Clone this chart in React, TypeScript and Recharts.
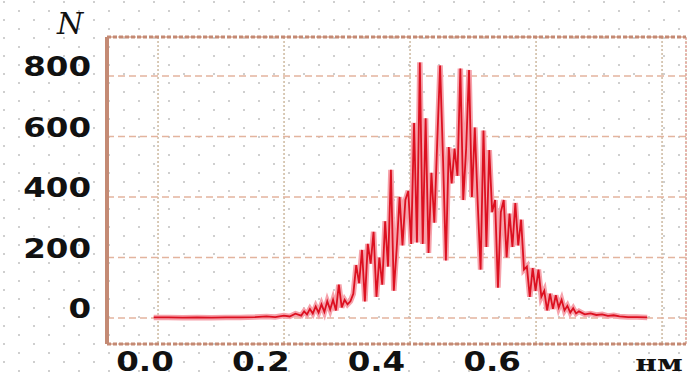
import {
  LineChart,
  Line,
  XAxis,
  YAxis,
  CartesianGrid,
  ReferenceLine,
} from "recharts";

// particle size, nm (as read on the printed axis)
const sizes = [
  0.015, 0.04, 0.065, 0.09, 0.115, 0.14, 0.165, 0.19, 0.21, 0.225, 0.24, 0.25,
  0.26, 0.27, 0.275, 0.28, 0.285, 0.29, 0.295, 0.3, 0.305, 0.31, 0.315, 0.32,
  0.325, 0.33, 0.335, 0.34, 0.345, 0.35, 0.355, 0.36, 0.365, 0.37, 0.375, 0.38,
  0.385, 0.39, 0.395, 0.4, 0.405, 0.41, 0.415, 0.42, 0.425, 0.43, 0.435, 0.44,
  0.445, 0.45, 0.455, 0.46, 0.465, 0.47, 0.475, 0.48, 0.485, 0.49, 0.495, 0.5,
  0.505, 0.51, 0.515, 0.52, 0.525, 0.53, 0.535, 0.54, 0.545, 0.55, 0.555, 0.56,
  0.565, 0.57, 0.575, 0.58, 0.585, 0.59, 0.595, 0.6, 0.605, 0.61, 0.615, 0.62,
  0.625, 0.63, 0.635, 0.64, 0.645, 0.65, 0.655, 0.66, 0.665, 0.67, 0.675, 0.68,
  0.685, 0.69, 0.695, 0.7, 0.705, 0.71, 0.715, 0.72, 0.725, 0.73, 0.735, 0.74,
  0.745, 0.75, 0.76, 0.77, 0.78, 0.79, 0.8, 0.81, 0.82, 0.835, 0.85, 0.868,
];

// counts N
const counts = [
  2, 2, 1, 2, 1, 2, 2, 3, 5, 3, 8, 5,
  14, 8, 22, 12, 30, 15, 38, 18, 45, 20, 55, 28,
  60, 25, 110, 35, 60, 45, 55, 80, 175, 115, 225, 55,
  245, 180, 285, 70, 200, 110, 320, 170, 490, 90, 230, 400,
  240, 390, 420, 245, 645, 250, 845, 245, 660, 215, 480, 315,
  580, 835, 530, 190, 565, 445, 560, 470, 825, 390, 560, 820,
  400, 630, 380, 160, 620, 235, 555, 350, 390, 100, 350, 390,
  200, 345, 235, 380, 240, 325, 160, 170, 70, 165, 90, 160,
  70, 90, 25, 80, 30, 75, 35, 60, 25, 40, 18, 32,
  15, 22, 12, 15, 10, 12, 7, 9, 5, 3, 3, 2,
];

const xTicks = [0, 0.2, 0.4, 0.6];
const yTicks = [0, 200, 400, 600, 800];
// the frame's own grid is offset from the printed labels
const gridTicks = [0, 0.2, 0.4, 0.6, 0.8];

const xDomain = [-0.0657, 0.935];
const gridDomain = [-0.081, 0.838];
const yDomain = [-86, 929];

const chartData = sizes.map((s, i) => ({ size: s, count: counts[i] }));

const FONT = "'DejaVu Sans', sans-serif";
const BROWN = "#c48a74";

function YTick({ x, y, payload }: any) {
  return (
    <g transform={`translate(${x - 8},${y - 9})`}>
      <text
        transform="scale(1.25,1)"
        textAnchor="end"
        dy="0.36em"
        fontFamily={FONT}
        fontWeight="bold"
        fontSize={26}
        fill="#111"
      >
        {payload.value}
      </text>
    </g>
  );
}

function XTick({ x, payload }: any) {
  return (
    <g transform={`translate(${x},362)`}>
      <text
        transform="scale(1.25,1)"
        textAnchor="middle"
        dy="0.36em"
        fontFamily={FONT}
        fontWeight="bold"
        fontSize={26}
        fill="#111"
      >
        {payload.value.toFixed(1)}
      </text>
    </g>
  );
}

function UnitLabel({ viewBox }: any) {
  const { x, width } = viewBox;
  return (
    <g transform={`translate(${x + width - 27},364)`}>
      <text
        transform="scale(1.35,1)"
        textAnchor="middle"
        dy="0.3em"
        fontFamily="'DejaVu Serif', serif"
        fontWeight="bold"
        fontSize={22}
        fill="#111"
      >
        нм
      </text>
    </g>
  );
}

function NLabel() {
  return (
    <text
      x={70}
      y={23}
      textAnchor="middle"
      dy="0.36em"
      fontFamily="'DejaVu Serif', serif"
      fontStyle="italic"
      fontSize={30}
      fill="#111"
    >
      N
    </text>
  );
}

export default function App() {
  return (
    <div
      style={{
        position: "absolute",
        left: 0,
        top: 0,
        width: 687,
        height: 377,
        background: "#fff",
        backgroundImage:
          "radial-gradient(circle, #cfcfcf 1px, transparent 1.2px), radial-gradient(circle, #cfcfcf 1px, transparent 1.2px)",
        backgroundSize: "30px 18px, 30px 18px",
        backgroundPosition: "4px 2px, 19px 11px",
      }}
    >
      <LineChart
        width={687}
        height={377}
        data={chartData}
        margin={{ top: 37, right: 1, bottom: 0, left: 0 }}
      >
        <CartesianGrid
          xAxisId="grid"
          horizontal={false}
          stroke="#cdb9a0"
          strokeDasharray="2 2"
          strokeWidth={1.5}
        />
        <CartesianGrid
          xAxisId="grid"
          vertical={false}
          stroke="#e3b49e"
          strokeDasharray="7 4"
          strokeWidth={1.5}
        />
        <XAxis
          xAxisId="grid"
          type="number"
          dataKey="size"
          domain={gridDomain}
          ticks={gridTicks}
          allowDataOverflow
          height={0}
          hide
        />
        <XAxis
          xAxisId="nm"
          type="number"
          dataKey="size"
          domain={xDomain}
          ticks={xTicks}
          allowDataOverflow
          interval={0}
          tickLine={false}
          axisLine={{ stroke: BROWN, strokeWidth: 3, strokeDasharray: "4 2" }}
          tick={<XTick />}
          height={33}
          label={<UnitLabel />}
        />
        <YAxis
          type="number"
          domain={yDomain}
          ticks={yTicks}
          allowDataOverflow
          interval={0}
          width={107}
          tickLine={false}
          axisLine={{ stroke: BROWN, strokeWidth: 4 }}
          tick={<YTick />}
        />
        <ReferenceLine
          xAxisId="nm"
          y={yDomain[1]}
          stroke={BROWN}
          strokeWidth={3}
          strokeDasharray="4 2"
        />
        <ReferenceLine
          xAxisId="nm"
          x={xDomain[1]}
          stroke="#e8a7a0"
          strokeWidth={1.5}
          strokeDasharray="2 2"
        />
        <Line
          xAxisId="nm"
          type="linear"
          dataKey="count"
          stroke="#f6a2ab"
          strokeWidth={5.5}
          dot={false}
          isAnimationActive={false}
        />
        <Line
          xAxisId="nm"
          type="linear"
          dataKey="count"
          stroke="#dc1020"
          strokeWidth={1.8}
          dot={false}
          isAnimationActive={false}
        />
        <NLabel />
      </LineChart>
    </div>
  );
}
